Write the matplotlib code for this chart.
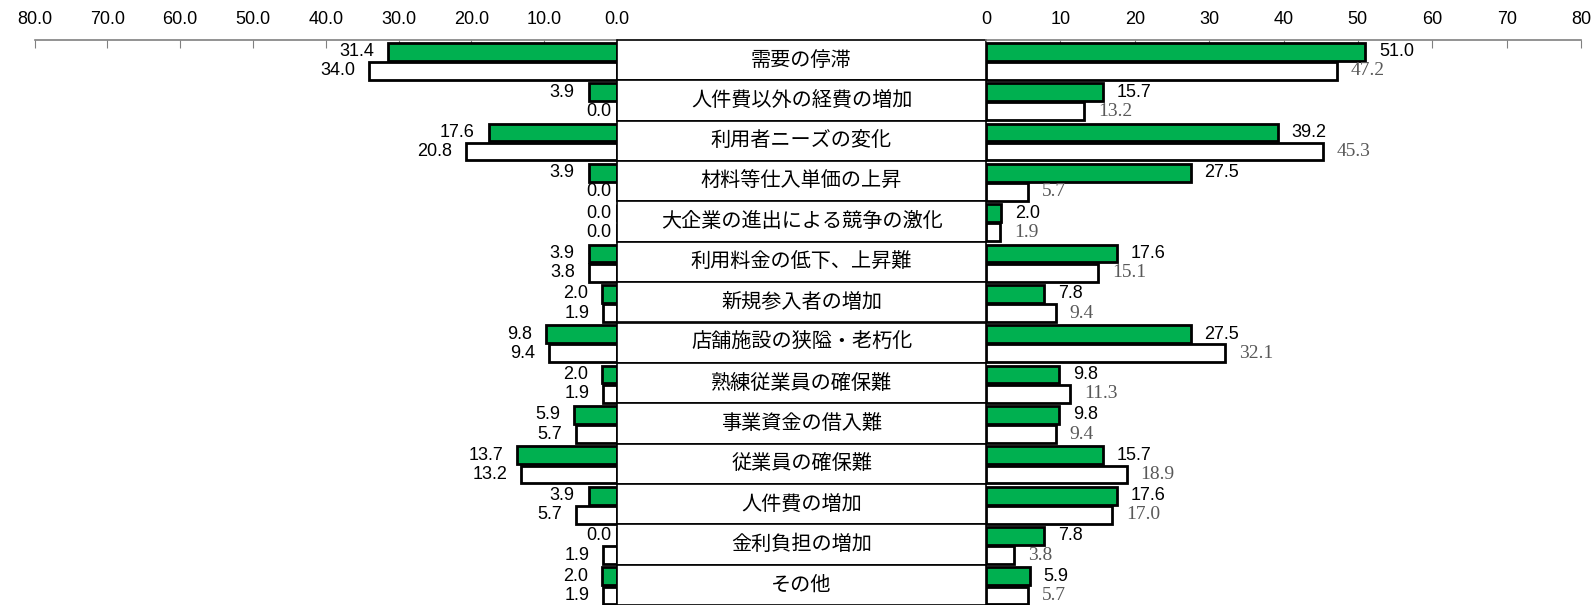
import matplotlib.pyplot as plt
from matplotlib.patches import Rectangle
import numpy as np

plt.rcParams['font.family'] = ['Noto Sans CJK JP', 'DejaVu Sans']

categories = ['需要の停滞', '人件費以外の経費の増加', '利用者ニーズの変化', '材料等仕入単価の上昇',
              '大企業の進出による競争の激化', '利用料金の低下、上昇難', '新規参入者の増加',
              '店舗施設の狭隘・老朽化', '熟練従業員の確保難', '事業資金の借入難',
              '従業員の確保難', '人件費の増加', '金利負担の増加', 'その他']
left_green = [31.4, 3.9, 17.6, 3.9, 0.0, 3.9, 2.0, 9.8, 2.0, 5.9, 13.7, 3.9, 0.0, 2.0]
left_white = [34.0, 0.0, 20.8, 0.0, 0.0, 3.8, 1.9, 9.4, 1.9, 5.7, 13.2, 5.7, 1.9, 1.9]
right_green = [51.0, 15.7, 39.2, 27.5, 2.0, 17.6, 7.8, 27.5, 9.8, 9.8, 15.7, 17.6, 7.8, 5.9]
right_white = [47.2, 13.2, 45.3, 5.7, 1.9, 15.1, 9.4, 32.1, 11.3, 9.4, 18.9, 17.0, 3.8, 5.7]
ticks = [0, 10, 20, 30, 40, 50, 60, 70, 80]

GREEN = '#00B050'
num_font = ['Liberation Sans', 'DejaVu Sans']
n = len(categories)
rows = np.arange(n)
g_y = rows + 0.29
w_y = rows + 0.765
bh = 0.44

fig = plt.figure(figsize=(15.94, 6.05), dpi=100)
top = 1 - 40 / 605
axl = fig.add_axes([34.6 / 1594, 0, (617 - 34.6) / 1594, top])
axm = fig.add_axes([617 / 1594, 0, (986 - 617) / 1594, top])
axr = fig.add_axes([986 / 1594, 0, (1581 - 986) / 1594, top])

def style(ax, lo, hi, fmt):
    ax.set_xlim(lo, hi)
    ax.set_ylim(n, 0)
    for s in ['left', 'right', 'bottom']:
        ax.spines[s].set_visible(False)
    ax.spines['top'].set_color('#808080')
    ax.spines['top'].set_linewidth(1.2)
    ax.xaxis.tick_top()
    ax.set_xticks(ticks)
    ax.set_xticklabels([fmt % t for t in ticks], family=num_font, fontsize=13)
    ax.tick_params(axis='x', direction='in', length=6, color='#808080', pad=8.5)
    ax.set_yticks([])
    ax.patch.set_visible(False)

style(axl, 80, 0, '%.1f')
style(axr, 0, 80, '%d')

axl.barh(g_y, left_green, height=bh, color=GREEN, edgecolor='black', linewidth=2, zorder=3)
axl.barh(w_y, left_white, height=bh, color='white', edgecolor='black', linewidth=2, zorder=3)
axr.barh(g_y, right_green, height=bh, color=GREEN, edgecolor='black', linewidth=2, zorder=3)
axr.barh(w_y, right_white, height=bh, color='white', edgecolor='black', linewidth=2, zorder=3)

# labels: 左は棒の先から左へ、右は棒の先から右へ
def lab_left(v, y):
    off = -10 if v > 0 else -4
    axl.annotate('%.1f' % v, (v, y), xytext=(off, 0), textcoords='offset points',
                 ha='right', va='center', family=num_font, fontsize=13)

for i in range(n):
    lab_left(left_green[i], g_y[i])
    lab_left(left_white[i], w_y[i])
    axr.annotate('%.1f' % right_green[i], (right_green[i], g_y[i]), xytext=(10, 0),
                 textcoords='offset points', ha='left', va='center',
                 family=num_font, fontsize=13)
    axr.annotate('%.1f' % right_white[i], (right_white[i], w_y[i]), xytext=(10, 0),
                 textcoords='offset points', ha='left', va='center',
                 family='Liberation Serif', fontsize=14, color='#595959')

axm.set_xlim(0, 1)
axm.set_ylim(n, 0)
axm.axis('off')
for i, c in enumerate(categories):
    axm.add_patch(Rectangle((0, i), 1, 1, facecolor='white', edgecolor='black',
                            linewidth=1.2, clip_on=False))
    axm.text(0.5, i + 0.5, c, ha='center', va='center', fontsize=14.5)

fig.savefig('out.png', dpi=100)
